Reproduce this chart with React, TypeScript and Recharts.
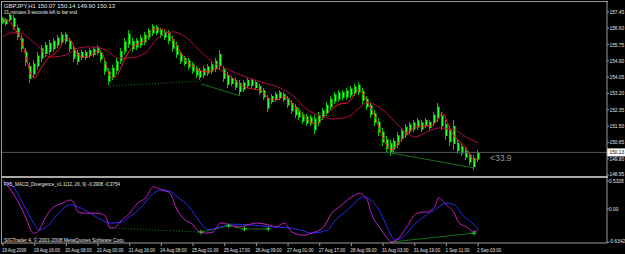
import React from 'react';
import { ComposedChart, Bar, Line, XAxis, YAxis, ReferenceLine } from 'recharts';

const HIGH = [
  157.19, 157.14, 157.40, 157.29, 156.77, 156.25, 155.57, 154.84, 154.95, 155.36,
  155.73, 155.89, 155.99, 156.09, 156.25, 156.41, 156.41, 156.09, 155.73, 155.47,
  155.47, 155.47, 155.57, 155.63, 155.73, 155.47, 155.05, 154.53, 154.69, 155.05,
  155.57, 156.09, 156.51, 156.09, 156.09, 156.25, 156.41, 156.62, 156.82, 156.77,
  156.62, 156.51, 156.51, 156.20, 155.89, 155.36, 155.16, 155.05, 154.84, 154.63,
  154.53, 154.63, 154.74, 154.84, 155.05, 155.47, 154.63, 154.32, 154.11, 154.01,
  153.90, 153.90, 154.01, 154.01, 153.90, 153.70, 153.49, 153.12, 153.17, 153.28,
  153.38, 153.28, 153.07, 152.86, 152.65, 152.45, 152.24, 152.13, 152.08, 152.08,
  152.24, 152.45, 152.76, 153.07, 153.28, 153.38, 153.38, 153.49, 153.59, 153.70,
  153.80, 153.49, 153.07, 152.76, 152.34, 151.92, 151.40, 150.98, 150.78, 150.88,
  151.19, 151.40, 151.61, 151.71, 151.82, 151.92, 151.82, 151.92, 151.82, 152.24,
  152.71, 152.24, 151.82, 151.51, 151.82, 150.78, 150.57, 150.36, 150.15, 149.99,
  150.26,
];
const LOW = [
  156.82, 156.72, 156.93, 156.51, 155.99, 155.36, 154.63, 153.75, 154.01, 154.43,
  154.84, 155.10, 155.21, 155.36, 155.57, 155.73, 155.78, 155.36, 154.84, 154.69,
  154.95, 154.95, 155.05, 155.10, 155.21, 154.84, 154.16, 153.64, 153.90, 154.22,
  154.74, 155.21, 155.57, 155.36, 155.47, 155.57, 155.73, 155.99, 156.20, 156.25,
  156.09, 155.99, 155.78, 155.36, 155.05, 154.74, 154.63, 154.43, 154.22, 154.01,
  153.90, 154.01, 154.11, 154.22, 154.32, 154.43, 153.80, 153.49, 153.59, 153.38,
  153.12, 153.28, 153.49, 153.49, 153.38, 153.12, 152.86, 152.24, 152.65, 152.76,
  152.86, 152.76, 152.45, 152.13, 151.92, 151.82, 151.61, 151.51, 151.51, 151.09,
  151.51, 151.82, 152.03, 152.34, 152.65, 152.76, 152.86, 152.86, 152.97, 153.07,
  153.12, 152.65, 152.34, 151.92, 151.51, 150.98, 150.46, 150.15, 149.94, 150.15,
  150.36, 150.67, 150.88, 151.09, 151.19, 151.30, 151.19, 151.40, 151.30, 151.51,
  151.71, 151.30, 150.78, 150.46, 150.26, 150.05, 149.94, 149.73, 149.47, 149.21,
  149.63,
];

// moving averages, [bar, price] where they could be read
const FAST_MA: [number, number][] = [
  [0, 157.03], [1, 157.03], [3, 156.56], [5, 155.73], [6, 154.95], [7, 154.22], [8, 154.01],
  [9, 154.32], [11, 154.95], [14, 155.47], [16, 156.09], [17, 155.99], [19, 155.21], [20, 155.10],
  [22, 155.16], [24, 155.42], [25, 155.31], [26, 154.74], [27, 154.11], [28, 154.01], [29, 154.22],
  [31, 155.10], [33, 155.68], [34, 155.78], [36, 155.99], [38, 156.56], [40, 156.56], [42, 156.30],
  [43, 155.99], [45, 155.31], [46, 154.95], [48, 154.63], [49, 154.43], [52, 154.32], [54, 154.53],
  [56, 154.27], [58, 154.01], [59, 153.80], [61, 153.54], [63, 153.44], [65, 153.38], [67, 152.97],
  [69, 152.86], [71, 153.02], [74, 152.45], [77, 151.82], [79, 151.61], [81, 151.98], [85, 152.65],
  [87, 152.71], [90, 153.38], [92, 152.76], [94, 151.98], [96, 150.88], [98, 150.26], [100, 150.67],
  [103, 151.30], [106, 151.51], [108, 151.51], [110, 151.92], [111, 152.18], [113, 151.30],
  [114, 150.98], [117, 150.36], [119, 149.73], [120, 149.84],
];
const SLOW_MA: [number, number][] = [
  [0, 156.15], [2, 156.36], [4, 156.36], [8, 155.83], [12, 155.10], [16, 155.21], [19, 155.57],
  [22, 155.63], [26, 155.47], [29, 155.05], [32, 155.05], [36, 155.31], [38, 155.83], [41, 156.36],
  [43, 156.41], [47, 155.99], [49, 155.57], [53, 154.84], [57, 154.43], [62, 154.01], [66, 153.75],
  [70, 153.49], [73, 153.12], [77, 152.34], [81, 151.98], [83, 151.87], [87, 151.98], [90, 152.45],
  [92, 152.71], [96, 152.34], [99, 151.71], [102, 151.14], [104, 150.93], [107, 151.19],
  [110, 151.40], [114, 151.30], [117, 150.93], [120, 150.62],
];

// divergence trend lines on price
const PRICE_DIV_DOTTED: [number, number][] = [[27, 153.59], [50, 153.85]];
const PRICE_DIV_A: [number, number][] = [[50, 153.70], [60, 153.07]];
const PRICE_DIV_B: [number, number][] = [[98, 150.10], [119, 149.32]];

// MACD(12,26,9)
const MACD_MAIN: [number, number][] = [
  [0, 0.55], [2, 0.36], [4, 0.11], [6, -0.21], [7, -0.40], [8, -0.46], [9, -0.42], [10, -0.27],
  [12, -0.02], [15, 0.11], [17, 0.17], [18, 0.11], [19, -0.06], [21, -0.08], [24, -0.08],
  [26, -0.15], [27, -0.36], [28, -0.36], [30, -0.21], [32, -0.08], [33, 0.02], [34, 0.11],
  [36, 0.21], [38, 0.42], [39, 0.40], [41, 0.34], [42, 0.32], [44, -0.02], [46, -0.21],
  [48, -0.30], [49, -0.40], [51, -0.46], [53, -0.44], [55, -0.27], [56, -0.27], [57, -0.30],
  [60, -0.34], [62, -0.30], [64, -0.27], [67, -0.30], [69, -0.34], [71, -0.27], [73, -0.44],
  [76, -0.50], [78, -0.46], [81, -0.34], [83, -0.08], [85, 0.04], [87, 0.17], [89, 0.27],
  [90, 0.30], [92, 0.17], [93, -0.08], [95, -0.34], [97, -0.55], [98, -0.63], [100, -0.55],
  [102, -0.34], [104, -0.11], [106, -0.06], [107, -0.06], [109, 0.04], [110, 0.21], [112, 0.08],
  [114, -0.08], [115, -0.25], [117, -0.34], [119, -0.44], [120, -0.3908],
];
const MACD_SIGNAL: [number, number][] = [
  [0, 0.50], [2, 0.46], [5, 0.11], [8, -0.30], [9, -0.40], [11, -0.34], [13, -0.17], [17, 0.08],
  [19, 0.04], [22, -0.08], [25, -0.21], [27, -0.27], [30, -0.25], [32, -0.15], [35, 0.04],
  [37, 0.23], [40, 0.36], [42, 0.34], [44, 0.23], [47, 0.04], [49, -0.17], [51, -0.36],
  [52, -0.39], [55, -0.34], [58, -0.29], [62, -0.30], [65, -0.32], [68, -0.34], [72, -0.36],
  [75, -0.40], [78, -0.46], [82, -0.40], [84, -0.21], [87, -0.02], [89, 0.13], [91, 0.23],
  [92, 0.21], [95, -0.02], [97, -0.34], [99, -0.59], [101, -0.53], [104, -0.29], [107, -0.11],
  [109, -0.02], [112, 0.11], [114, 0.08], [116, -0.11], [119, -0.30], [120, -0.3754],
];
const MACD_DIV_DOTTED: [number, number][] = [[27, -0.36], [50, -0.44]];
const MACD_DIV_A: [number, number][] = [[50, -0.44], [57, -0.32], [61, -0.38], [67, -0.38]];
const MACD_DIV_B: [number, number][] = [[98, -0.63], [119, -0.46]];
const MACD_MARKS: [number, number][] = [[50, -0.44], [57, -0.32], [61, -0.38], [67, -0.38], [119, -0.46]];

const PRICE_TICKS = [157.45, 156.6, 155.75, 154.9, 154.05, 153.2, 152.35, 151.5, 150.65, 149.8, 148.95];
const MACD_TICKS = [0.5328, 0, -0.6342];
const BID = 150.13;

const X_LABEL_BARS = [0, 8, 16, 24, 32, 40, 48, 56, 64, 72, 80, 88, 96, 104, 112, 120];
const X_LABELS = [
  '19 Aug 2009', '19 Aug 16:00', '20 Aug 08:00', '21 Aug 00:00', '21 Aug 16:00', '24 Aug 08:00',
  '25 Aug 01:00', '25 Aug 17:00', '26 Aug 09:00', '27 Aug 01:00', '27 Aug 17:00', '28 Aug 09:00',
  '31 Aug 03:00', '31 Aug 19:00', '1 Sep 11:00', '2 Sep 03:00',
];

const TITLE = 'GBPJPY,H1  150.07 150.14 149.90 150.13';
const TIMER = '21 minutes 9 seconds left to bar end';
const INDICATOR = 'FX5_MACD_Divergence_v1.1(12, 26, 9) -0.3908 -0.3754';
const COPYRIGHT = 'SIGTrader 4, © 2001-2008 MetaQuotes Software Corp.';
const PIPS = '<33.9';

const FONT = '"Liberation Sans", Arial, sans-serif';
const FRAME = '#9c9c9c';
const X_DOMAIN: [number, number] = [-0.25, 152.55];

const at = (pairs: [number, number][], i: number) => {
  const p = pairs.find((q) => q[0] === i);
  return p ? p[1] : null;
};

const rows = HIGH.map((high, i) => ({
  i,
  range: [LOW[i], high],
  fast: at(FAST_MA, i),
  slow: at(SLOW_MA, i),
  pDot: at(PRICE_DIV_DOTTED, i),
  pA: at(PRICE_DIV_A, i),
  pB: at(PRICE_DIV_B, i),
  macd: at(MACD_MAIN, i),
  signal: at(MACD_SIGNAL, i),
  mDot: at(MACD_DIV_DOTTED, i),
  mA: at(MACD_DIV_A, i),
  mB: at(MACD_DIV_B, i),
  mark: at(MACD_MARKS, i),
}));

// thin bar: 1px wick over the full range, 2px lime body in the middle
function Candle(props: any) {
  const { x, y, width, height } = props;
  if (x == null || y == null) return <g />;
  const cx = Math.round(x + width / 2);
  const h = Math.max(height, 1);
  return (
    <g>
      <rect x={cx - 1} y={y} width={1} height={h} fill="#00c800" />
      <rect x={cx} y={y + h * 0.2} width={1.5} height={h * 0.6} fill="#2bff2b" />
    </g>
  );
}

function Plus(props: any) {
  const { cx, cy, value, index } = props;
  if (value == null || cx == null || cy == null) return <g key={index} />;
  return (
    <g key={index} stroke="#33cc33" strokeWidth={1}>
      <line x1={cx - 2.5} x2={cx + 2.5} y1={cy} y2={cy} />
      <line x1={cx} x2={cx} y1={cy - 2.5} y2={cy + 2.5} />
    </g>
  );
}

function PriceTick({ y, payload }: any) {
  return (
    <text x={609.5} y={Math.min(y + 2, 175.5)} fill="#e6e6e6" fontSize={4.8} fontFamily={FONT}>
      {payload.value.toFixed(2)}
    </text>
  );
}

function MacdTick({ y, payload }: any) {
  const v = payload.value;
  return (
    <text x={609} y={Math.min(y + 2, 65.5)} fill="#e6e6e6" fontSize={4.8} fontFamily={FONT}>
      {v === 0 ? '0.00' : v.toFixed(4)}
    </text>
  );
}

function TimeTick({ x, payload }: any) {
  const label = X_LABELS[X_LABEL_BARS.indexOf(payload.value)] ?? '';
  return (
    <text x={x - 1} y={75} fill="#e6e6e6" fontSize={5} fontFamily={FONT}
      textLength={label.length * 2.2} lengthAdjust="spacingAndGlyphs">
      {label}
    </text>
  );
}

function BidLabel({ viewBox }: any) {
  const y = viewBox?.y ?? 0;
  return (
    <g>
      <rect x={607} y={y - 4} width={18} height={8} fill="#ffffff" />
      <text x={609.5} y={y + 2} fill="#000" fontSize={4.8} fontFamily={FONT}>{BID.toFixed(2)}</text>
    </g>
  );
}

const smooth = { type: 'monotone' as const, dot: false, connectNulls: true, isAnimationActive: false, strokeWidth: 1 };
const straight = { type: 'linear' as const, dot: false, connectNulls: true, isAnimationActive: false, strokeWidth: 1 };

export default function App() {
  return (
    <div style={{ position: 'absolute', left: 0, top: 0, width: 625, height: 254, background: '#000', overflow: 'hidden' }}>
      <div style={{ position: 'absolute', left: 0, top: 0 }}>
        <ComposedChart width={625} height={176} data={rows} margin={{ top: 1, right: 0, bottom: 0, left: 2 }}>
          <XAxis dataKey="i" type="number" domain={X_DOMAIN} allowDataOverflow hide />
          <YAxis orientation="right" width={18} domain={[148.9, 158.02]} allowDataOverflow
            ticks={PRICE_TICKS} interval={0} tickSize={2}
            axisLine={{ stroke: FRAME }} tickLine={{ stroke: FRAME }} tick={<PriceTick />} />
          <ReferenceLine y={BID} stroke="#4a5a5a" label={<BidLabel />} />
          <Bar dataKey="range" barSize={3} shape={<Candle />} isAnimationActive={false} />
          <Line dataKey="slow" stroke="#b0103c" {...smooth} />
          <Line dataKey="fast" stroke="#ff1a1a" {...smooth} />
          <Line dataKey="pDot" stroke="#1f7a1f" strokeDasharray="1 2" {...straight} />
          <Line dataKey="pA" stroke="#157015" {...straight} />
          <Line dataKey="pB" stroke="#157015" {...straight} />
        </ComposedChart>
      </div>
      <div style={{ position: 'absolute', left: 0, top: 177 }}>
        <ComposedChart width={625} height={77} data={rows} margin={{ top: 1, right: 0, bottom: 0, left: 2 }}>
          <XAxis dataKey="i" type="number" domain={X_DOMAIN} allowDataOverflow
            ticks={X_LABEL_BARS} interval={0} height={11} tickSize={3}
            axisLine={{ stroke: FRAME }} tickLine={{ stroke: FRAME }} tick={<TimeTick />} />
          <YAxis orientation="right" width={18} domain={[-0.648, 0.59]} allowDataOverflow
            ticks={MACD_TICKS} interval={0} tickSize={2}
            axisLine={{ stroke: FRAME }} tickLine={{ stroke: FRAME }} tick={<MacdTick />} />
          <Line dataKey="mDot" stroke="#1f7a1f" strokeDasharray="1 2" {...straight} />
          <Line dataKey="mA" stroke="#157015" {...straight} />
          <Line dataKey="mB" stroke="#157015" {...straight} />
          <Line dataKey="signal" stroke="#2a2aff" {...smooth} />
          <Line dataKey="macd" stroke="#c41ec4" {...smooth} />
          <Line dataKey="mark" stroke="none" dot={<Plus />} isAnimationActive={false} />
        </ComposedChart>
      </div>
      <svg width={625} height={254} style={{ position: 'absolute', left: 0, top: 0, pointerEvents: 'none' }}>
        <rect x={1} y={1} width={607} height={1} fill={FRAME} />
        <rect x={1} y={1} width={1} height={243} fill={FRAME} />
        <rect x={1} y={176} width={607} height={2} fill="#a8a8a8" />
        <g fontFamily={FONT} fill="#e8e8e8" fontSize={6}>
          <text x={4} y={8} textLength={111} lengthAdjust="spacingAndGlyphs">{TITLE}</text>
          <text x={4} y={13.5} textLength={73} lengthAdjust="spacingAndGlyphs">{TIMER}</text>
          <text x={4} y={186} textLength={116} lengthAdjust="spacingAndGlyphs">{INDICATOR}</text>
          <text x={4} y={242} textLength={121} lengthAdjust="spacingAndGlyphs">{COPYRIGHT}</text>
        </g>
        <text x={490} y={160.5} fontFamily={FONT} fontSize={8.5} fill="#9c9c9c">{PIPS}</text>
      </svg>
    </div>
  );
}
